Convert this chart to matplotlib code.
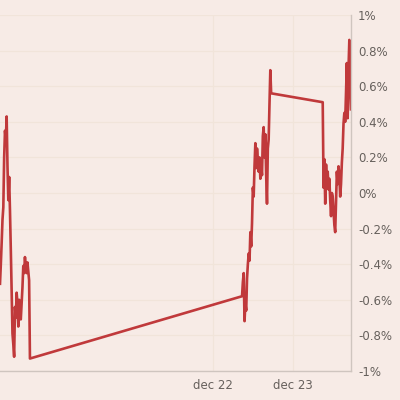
import matplotlib
matplotlib.use('Agg')
import matplotlib.pyplot as plt
import matplotlib.dates as mdates
import matplotlib.ticker as mticker
import pandas as pd

# Intraday % change, 15-minute steps, three trading sessions
seg1_start = '2014-12-19 08:00'
seg1_values = [
    -0.51, -0.40, -0.28, -0.15, -0.08, 0.20, 0.35, 0.30, 0.43, 0.15,
    -0.04, 0.09, -0.10, -0.32, -0.55, -0.79, -0.85, -0.92, -0.64, -0.70,
    -0.56, -0.62, -0.75, -0.60, -0.68, -0.71, -0.62, -0.53, -0.41, -0.45,
    -0.36, -0.42, -0.45, -0.39, -0.44, -0.49, -0.93,
]
seg2_start = '2014-12-22 08:45'
seg2_values = [
    -0.58, -0.50, -0.45, -0.72, -0.62, -0.66, -0.48, -0.40, -0.34, -0.38,
    -0.22, -0.30, -0.17, 0.03, -0.02, 0.15, 0.28, 0.14, 0.25, 0.19,
    0.12, 0.20, 0.08, 0.15, 0.10, 0.32, 0.37, 0.20, 0.33, 0.10,
    -0.06, 0.25, 0.30, 0.50, 0.69, 0.56,
]
seg3_start = '2014-12-23 09:00'
seg3_values = [
    0.51, 0.03, 0.19, -0.06, 0.16, 0.05, 0.12, 0.02, 0.08, -0.04,
    -0.13, 0.00, -0.02, -0.10, -0.18, -0.22, -0.05, 0.12, 0.05, 0.15,
    0.10, -0.02, 0.05, 0.17, 0.25, 0.39, 0.45, 0.40, 0.56, 0.73,
    0.42, 0.70, 0.86, 0.62, 0.47,
]
x_ticks = ['2014-12-22', '2014-12-23']
x_tick_labels = ['dec 22', 'dec 23']
y_ticks = [-1.0, -0.8, -0.6, -0.4, -0.2, 0.0, 0.2, 0.4, 0.6, 0.8, 1.0]

BG = '#f7ebe6'
LINE = '#c0393b'
GRID = '#f1e4da'
SPINE = '#cfc5bf'
TEXT = '#66605c'

parts = []
for start, vals in [(seg1_start, seg1_values), (seg2_start, seg2_values), (seg3_start, seg3_values)]:
    idx = pd.date_range(start, periods=len(vals), freq='15min')
    parts.append(pd.Series(vals, index=idx))
series = pd.concat(parts)

fig = plt.figure(figsize=(4, 4), dpi=100, facecolor=BG)
ax = fig.add_axes([0.0, 0.0725, 0.8775, 0.89])
ax.set_facecolor(BG)

ax.plot(series.index, series.values, color=LINE, linewidth=1.9, solid_joinstyle='round')

ax.set_xlim(series.index[0], series.index[-1])
ax.set_ylim(-1, 1)

ax.yaxis.tick_right()
ax.set_yticks(y_ticks)
ax.yaxis.set_major_formatter(mticker.FuncFormatter(lambda v, _: f'{v:g}%'.replace('-0%', '0%')))
ax.set_xticks([mdates.date2num(pd.Timestamp(t)) for t in x_ticks])
ax.set_xticklabels(x_tick_labels)

ax.tick_params(axis='both', length=0, colors=TEXT, labelsize=8.5)
ax.tick_params(axis='y', pad=5)
ax.tick_params(axis='x', pad=6)

ax.grid(True, color=GRID, linewidth=0.9)
ax.set_axisbelow(True)
for side in ['top', 'left']:
    ax.spines[side].set_visible(False)
for side in ['right', 'bottom']:
    ax.spines[side].set_color(SPINE)
    ax.spines[side].set_linewidth(1)

plt.savefig('out.png', dpi=100, facecolor=BG)
